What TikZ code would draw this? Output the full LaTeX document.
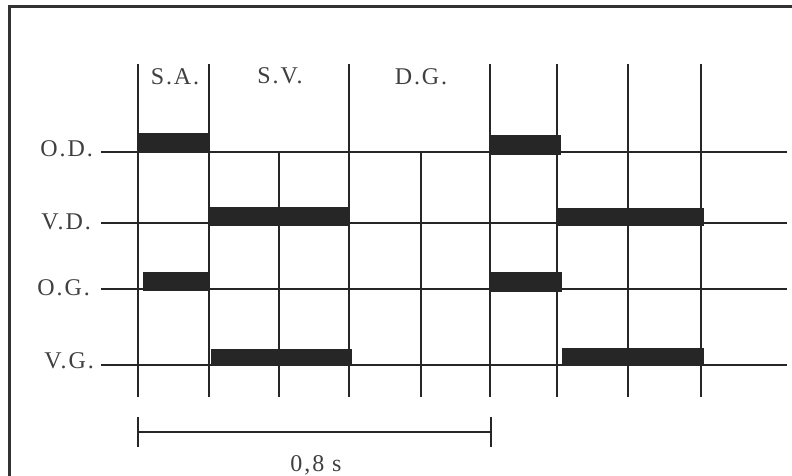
\documentclass[tikz,border=0pt]{standalone}
\usepackage{fontspec}
\setmainfont{Liberation Serif}[LetterSpace=8]
\begin{document}
\begin{tikzpicture}[x=1pt,y=-1pt,
  gridline/.style={line width=1.6pt, black!85},
  barfill/.style={fill=black!85},
  lab/.style={font=\fontsize{24}{26}\selectfont, inner sep=0pt, text=black!75}]
\useasboundingbox (0,0) rectangle (792,476);
\fill[white] (0,0) rectangle (792,476);
% frame
\draw[line width=3pt, black!80] (9,480) -- (9,7) -- (796,7);
% full vertical lines
\foreach \x in {138,209,349,490,557,628,701}
  \draw[gridline] (\x,64) -- (\x,397);
% partial vertical lines
\foreach \x in {279,421}
  \draw[gridline] (\x,152) -- (\x,397);
% horizontal lines
\foreach \y in {152,223,289,365}
  \draw[gridline] (101,\y) -- (787,\y);
% bars
\fill[barfill] (138,133) rectangle (209,152);
\fill[barfill] (490,135) rectangle (561,155);
\fill[barfill] (209,207) rectangle (349,226);
\fill[barfill] (558,208) rectangle (704,226);
\fill[barfill] (143,272) rectangle (210,291);
\fill[barfill] (491,272) rectangle (562,292);
\fill[barfill] (211,349) rectangle (352,365);
\fill[barfill] (562,348) rectangle (704,366);
% top labels
\node[lab] (sa) at (175,77) {S.A.};
\node[lab] (sv) at (280,76) {S.V.};
\node[lab] (dg) at (421,77) {D.G.};
% row labels
\node[lab, anchor=east] (od) at (93,149) {O.D.};
\node[lab, anchor=east] (vd) at (91,222) {V.D.};
\node[lab, anchor=east] (og) at (90,288) {O.G.};
\node[lab, anchor=east] (vg) at (94,361) {V.G.};
% dimension
\coordinate (d1) at (138,432);
\coordinate (d2) at (491,432);
\draw[gridline] (d1) -- (d2);
\draw[gridline] (138,417) -- (138,447);
\draw[gridline] (491,417) -- (491,447);
\node[lab, anchor=base] (dur) at (316,471) {0,8 s};
\end{tikzpicture}
\end{document}
